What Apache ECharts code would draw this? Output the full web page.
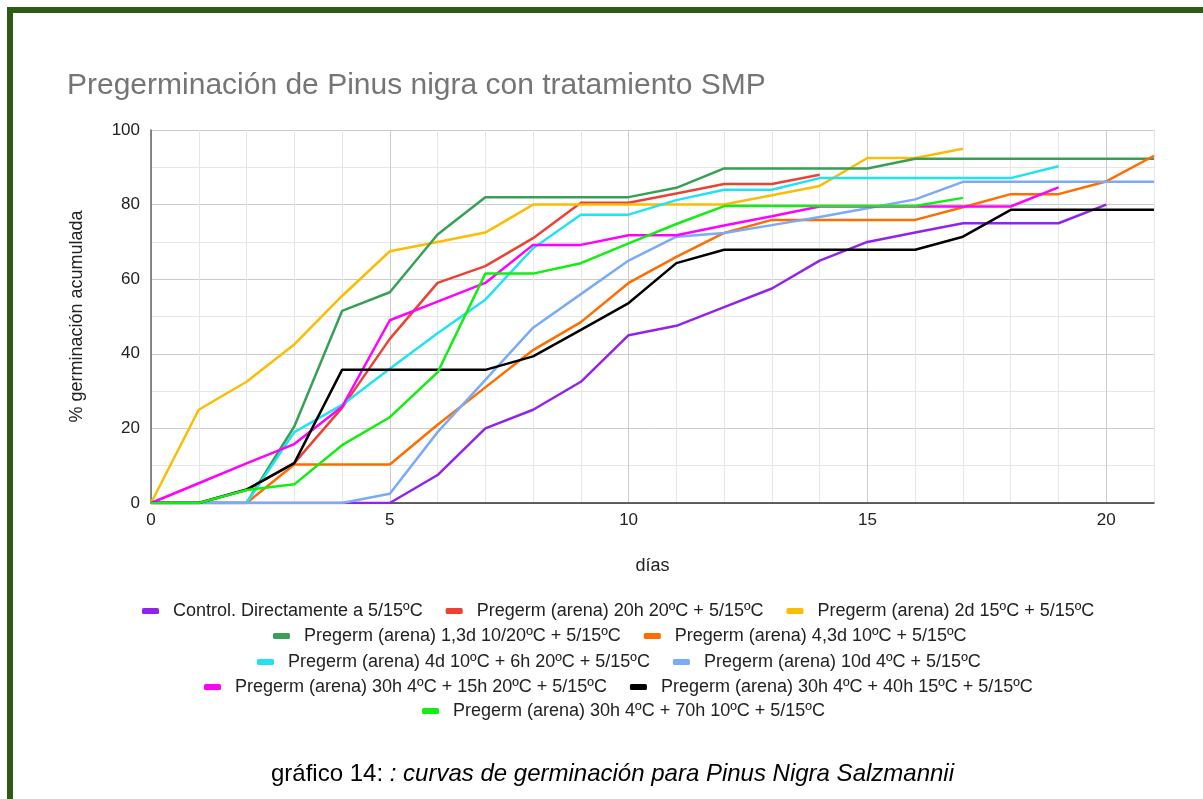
<!DOCTYPE html>
<html>
    <head>
        <meta charset="UTF-8">
        <title>Pregerminación de Pinus nigra</title>
        <script type="text/javascript" src="https://cdn.jsdelivr.net/npm/echarts@6/dist/echarts.min.js"></script>
        <style>
            body { margin: 0; background: #fff; }
            #main { position: absolute; left: 0; top: 0; width: 1203px; height: 799px; }
            .bordeSup { position: absolute; left: 7px; top: 7px; width: 1196px; height: 6px; background: #2d5a17; z-index: 5; }
            .bordeIzq { position: absolute; left: 7px; top: 7px; width: 6px; height: 792px; background: #2d5a17; z-index: 5; }
        </style>
    </head>
    <body>
        <div id="main"></div>
        <div class="bordeSup"></div>
        <div class="bordeIzq"></div>
    </body>
</html>
<script type="text/javascript">
        // datos (% germinación acumulada por día)
        var dias = [0, 1, 2, 3, 4, 5, 6, 7, 8, 9, 10, 11, 12, 13, 14, 15, 16, 17, 18, 19, 20, 21];

        var nombres = [
                'Control. Directamente a 5/15ºC',
                'Pregerm (arena) 20h 20ºC + 5/15ºC',
                'Pregerm (arena) 2d 15ºC + 5/15ºC',
                'Pregerm (arena) 1,3d 10/20ºC + 5/15ºC',
                'Pregerm (arena) 4,3d 10ºC + 5/15ºC',
                'Pregerm (arena) 4d 10ºC + 6h 20ºC + 5/15ºC',
                'Pregerm (arena) 10d 4ºC + 5/15ºC',
                'Pregerm (arena) 30h 4ºC + 15h 20ºC + 5/15ºC',
                'Pregerm (arena) 30h 4ºC + 40h 15ºC + 5/15ºC',
                'Pregerm (arena) 30h 4ºC + 70h 10ºC + 5/15ºC'
        ];

        var colores = ['#9124ec', '#ea4335', '#fbbc04', '#37a055', '#ff6d01',
                '#1fe3f0', '#7baaf7', '#ff00ff', '#000000', '#11ee11'];

        var control = [0, 0, 0, 0, 0, 0, 7.5, 20, 25, 32.5, 45, 47.5, 52.5, 57.5, 65, 70, 72.5, 75, 75, 75, 80];
        var arena20h = [0, 0, 3.5, 10.7, 25.5, 44, 59, 63.5, 71, 80.5, 80.5, 83, 85.5, 85.5, 88];
        var arena2d = [0, 25, 32.5, 42.5, 55.5, 67.5, 70, 72.5, 80, 80, 80, 80, 80, 82.5, 85, 92.5, 92.5, 95];
        var arena13d = [0, 0, 0, 20.5, 51.5, 56.5, 72, 82, 82, 82, 82, 84.5, 89.7, 89.7, 89.7, 89.7, 92.3, 92.3, 92.3, 92.3, 92.3, 92.3];
        var arena43d = [0, 0, 0, 10.3, 10.3, 10.3, 21, 31, 41, 48.5, 59, 66, 72.4, 75.9, 75.9, 75.9, 75.9, 79.3, 82.8, 82.8, 86.2, 93.1];
        var arena4d6h = [0, 0, 0, 19, 26.3, 36, 45.5, 54.5, 68.3, 77.3, 77.3, 81.2, 84, 84, 87.1, 87.1, 87.1, 87.1, 87.1, 90.3];
        var arena10d = [0, 0, 0, 0, 0, 2.5, 19, 33, 47, 56, 65, 71.4, 72.4, 74.5, 76.7, 79, 81.4, 86.1, 86.1, 86.1, 86.1, 86.1];
        var arena30h15h = [0, 5.3, 10.6, 15.8, 25.8, 49, 54, 59, 69.2, 69.2, 71.8, 71.8, 74.4, 76.9, 79.5, 79.5, 79.5, 79.5, 79.5, 84.6];
        var arena30h40h = [0, 0, 3.6, 10.7, 35.7, 35.7, 35.7, 35.7, 39.3, 46.4, 53.6, 64.3, 67.9, 67.9, 67.9, 67.9, 67.9, 71.4, 78.6, 78.6, 78.6, 78.6];
        var arena30h70h = [0, 0, 3.5, 5, 15.5, 23, 35, 61.5, 61.5, 64.3, 69.6, 74.8, 79.6, 79.6, 79.6, 79.6, 79.6, 81.8];

        var valores = [control, arena20h, arena2d, arena13d, arena43d, arena4d6h, arena10d, arena30h15h, arena30h40h, arena30h70h];

        // filas de la leyenda como en el original
        var filasLeyenda = [[0, 1, 2], [3, 4], [5, 6], [7, 8], [9]];
        var topLeyenda = [597, 622, 648, 673, 697];
        var izqLeyenda = [137, 268, 252, 199, 417];

        var fuente = 'Liberation Sans';
        var myChart = echarts.init(document.getElementById('main'));

        var series = valores.map(function(v, i) {
                return {
                        name: nombres[i],
                        type: 'line',
                        showSymbol: false,
                        symbol: 'none',
                        data: v.map(function(y, k) { return [dias[k], y]; }),
                        lineStyle: { width: 2.5, color: colores[i] },
                        itemStyle: { color: colores[i] }
                };
        });

        var leyendas = filasLeyenda.map(function(fila, j) {
                return {
                        top: topLeyenda[j],
                        left: izqLeyenda[j],
                        itemWidth: 17,
                        itemHeight: 6,
                        itemGap: 23,
                        icon: 'roundRect',
                        textStyle: { fontFamily: fuente, fontSize: 18, color: '#222', padding: [0, 0, 0, 9] },
                        data: fila.map(function(i) { return nombres[i]; })
                };
        });

        var option = {
                animation: false,
                backgroundColor: '#fff',
                title: [{
                        text: 'Pregerminación de Pinus nigra con tratamiento SMP',
                        left: 62,
                        top: 66,
                        textStyle: { fontFamily: fuente, fontSize: 30, fontWeight: 'normal', color: '#757575' }
                }, {
                        text: '{a|gráfico 14: }{b|: curvas de germinación para Pinus Nigra Salzmannii}',
                        left: 266,
                        top: 757,
                        textStyle: {
                                rich: {
                                        a: { fontFamily: fuente, fontSize: 24, fontWeight: 'normal', color: '#000' },
                                        b: { fontFamily: fuente, fontSize: 24, fontWeight: 'normal', fontStyle: 'italic', color: '#000' }
                                }
                        }
                }],
                legend: leyendas,
                grid: { left: 151, right: 49, top: 130, bottom: 296, containLabel: false },
                xAxis: {
                        type: 'value',
                        min: 0,
                        max: 21,
                        interval: 1,
                        name: 'días',
                        nameLocation: 'middle',
                        nameGap: 54,
                        nameTextStyle: { fontFamily: fuente, fontSize: 18, color: '#222' },
                        axisLine: { show: true, lineStyle: { color: '#333', width: 1.5 } },
                        axisTick: { show: false },
                        axisLabel: {
                                fontFamily: fuente, fontSize: 17, color: '#222', margin: 9,
                                formatter: function(v) { return v % 5 === 0 ? String(v) : ''; }
                        },
                        splitLine: { show: true, lineStyle: { color: ['#cccccc', '#e6e6e6', '#e6e6e6', '#e6e6e6', '#e6e6e6'], width: 1 } }
                },
                yAxis: {
                        type: 'value',
                        min: 0,
                        max: 100,
                        interval: 10,
                        name: '% germinación acumulada',
                        nameLocation: 'middle',
                        nameGap: 65,
                        nameTextStyle: { fontFamily: fuente, fontSize: 18, color: '#222' },
                        axisLine: { show: true, lineStyle: { color: '#666', width: 1.5 } },
                        axisTick: { show: false },
                        axisLabel: {
                                fontFamily: fuente, fontSize: 17, color: '#222', margin: 11,
                                formatter: function(v) { return v % 20 === 0 ? String(v) : ''; }
                        },
                        splitLine: { show: true, lineStyle: { color: ['#cccccc', '#e6e6e6'], width: 1 } }
                },
                series: series
        };

        myChart.setOption(option);
</script>
